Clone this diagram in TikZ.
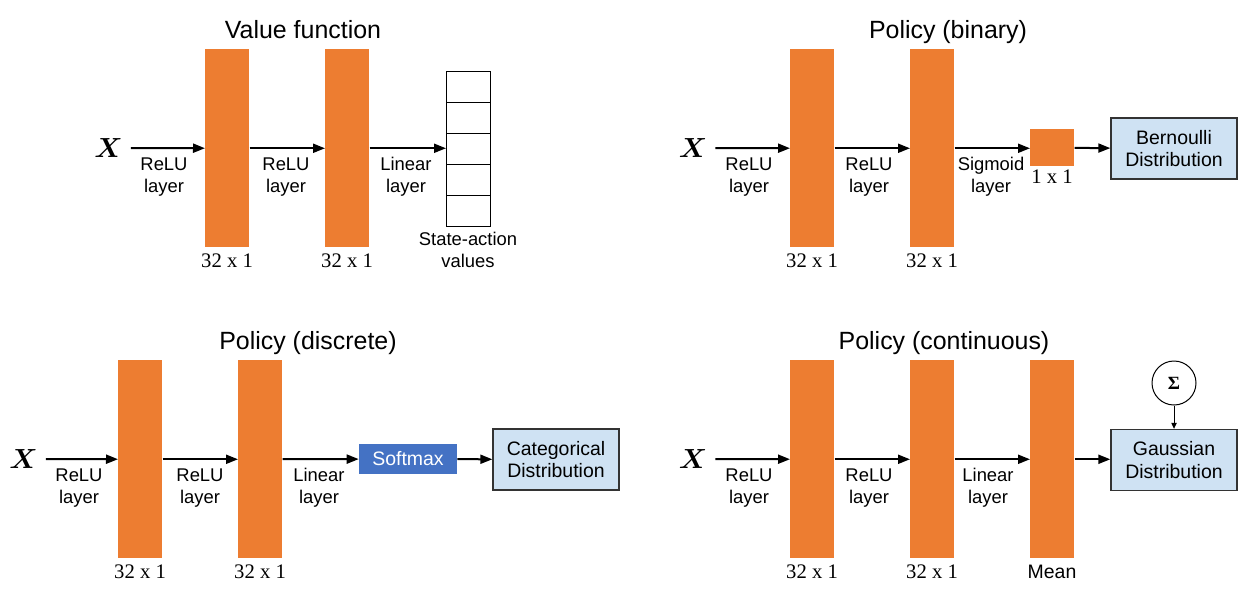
\documentclass[tikz,border=0pt]{standalone}
\usepackage{fontspec}
\usepackage{amsmath}
\usepackage{bm}
\newfontfamily\lblfont{Liberation Sans}
\newfontfamily\dimfont{Liberation Serif}
\usetikzlibrary{arrows.meta}
\definecolor{barorange}{HTML}{ED7D31}
\definecolor{distblue}{HTML}{CFE2F3}
\definecolor{softblue}{HTML}{4472C4}
\definecolor{frame}{HTML}{333333}
\begin{document}
\begin{tikzpicture}[x=0.75pt,y=-0.75pt,
  bar/.style={fill=barorange, inner sep=0pt, minimum width=33pt, minimum height=148.5pt, anchor=north west},
  sqbar/.style={fill=barorange, inner sep=0pt, minimum width=33pt, minimum height=27.75pt, anchor=north west},
  cell/.style={draw, line width=0.75pt, inner sep=0pt, minimum width=33pt, minimum height=23.25pt, anchor=north west},
  lbl/.style={font=\lblfont\fontsize{13.8}{16.2}\selectfont, align=center, inner sep=0pt},
  ttl/.style={font=\lblfont\fontsize{18.7}{22}\selectfont, anchor=base, inner sep=0pt},
  dimlbl/.style={font=\dimfont\fontsize{15.5}{17}\selectfont, anchor=base, inner sep=0pt},
  xin/.style={font=\fontsize{20}{22}\selectfont, inner xsep=6pt, inner ysep=0pt},
  dist/.style={draw=frame, line width=1pt, fill=distblue, minimum width=94.5pt, minimum height=45.75pt, align=center, inner sep=0pt, font=\lblfont\fontsize{14.6}{17}\selectfont},
  soft/.style={fill=softblue, text=white, minimum width=73.5pt, minimum height=22.5pt, inner sep=0pt, font=\lblfont\fontsize{14.6}{17}\selectfont},
  conn/.style={line width=1.5pt, -{Triangle[length=9pt,width=6.75pt]}},
  thinconn/.style={line width=0.75pt, -{Triangle[length=4.5pt,width=4pt]}}
]
\useasboundingbox (0,0) rectangle (1245,594);
\fill[white] (0,0) rectangle (1245,594);

% ---------- Value function ----------
\node[ttl] (t1) at (303,38) {Value function};
\node[xin] (x1) at (108.5,148) {$\bm{X}$};
\node[bar] (a1) at (205,49) {};
\node[bar] (a2) at (325,49) {};
\foreach \i in {0,...,4} {\node[cell] (c\i) at (446,{71+31*\i}) {};}
\draw[conn] (x1.east) -- (a1);
\draw[conn] (a1) -- (a2);
\draw[conn] (a2) -- (a2 -| c2.west);
\node[lbl] (l11) at (164,177) {ReLU\\layer};
\node[lbl] (l12) at (286,177) {ReLU\\layer};
\node[lbl] (l13) at (406,177) {Linear\\layer};
\node[dimlbl] (d11) at (227,267) {32 x 1};
\node[dimlbl] (d12) at (347,267) {32 x 1};
\node[lbl] (sav) at (468,250) {State-action\\values};

% ---------- Policy (binary) ----------
\node[ttl] (t2) at (948,38) {Policy (binary)};
\node[xin] (x2) at (693,148) {$\bm{X}$};
\node[bar] (b1) at (790,49) {};
\node[bar] (b2) at (910,49) {};
\node[sqbar] (b3) at (1030,129) {};
\node[dist] (bern) at (1174,148.5) {Bernoulli\\Distribution};
\draw[conn] (x2.east) -- (b1);
\draw[conn] (b1) -- (b2);
\draw[conn] (b2) -- (b2 -| b3.west);
\draw[conn] (b3) -- (bern);
\node[lbl] (l21) at (749,177) {ReLU\\layer};
\node[lbl] (l22) at (869,177) {ReLU\\layer};
\node[lbl] (l23) at (991,177) {Sigmoid\\layer};
\node[dimlbl] (d21) at (812,267) {32 x 1};
\node[dimlbl] (d22) at (932,267) {32 x 1};
\node[dimlbl] (d23) at (1052,183) {1 x 1};

% ---------- Policy (discrete) ----------
\node[ttl] (t3) at (308,349) {Policy (discrete)};
\node[xin] (x3) at (23.5,459) {$\bm{X}$};
\node[bar] (e1) at (118,360) {};
\node[bar] (e2) at (238,360) {};
\node[soft] (sm) at (408,459) {Softmax};
\node[dist] (cat) at (556,459.5) {Categorical\\Distribution};
\draw[conn] (x3.east) -- (e1);
\draw[conn] (e1) -- (e2);
\draw[conn] (e2) -- (sm);
\draw[conn] (sm) -- (cat);
\node[lbl] (l31) at (79,488) {ReLU\\layer};
\node[lbl] (l32) at (200,488) {ReLU\\layer};
\node[lbl] (l33) at (319,488) {Linear\\layer};
\node[dimlbl] (d31) at (140,578) {32 x 1};
\node[dimlbl] (d32) at (260,578) {32 x 1};

% ---------- Policy (continuous) ----------
\node[ttl] (t4) at (944,349) {Policy (continuous)};
\node[xin] (x4) at (693,459) {$\bm{X}$};
\node[bar] (f1) at (790,360) {};
\node[bar] (f2) at (910,360) {};
\node[bar] (f3) at (1030,360) {};
\node[dist] (gau) at (1174,460) {Gaussian\\Distribution};
\node[draw, circle, line width=0.75pt, minimum size=33pt, inner sep=0pt, font=\dimfont\bfseries\fontsize{14}{15}\selectfont] (sig) at (1174,383) {Σ};
\draw[conn] (x4.east) -- (f1);
\draw[conn] (f1) -- (f2);
\draw[conn] (f2) -- (f3);
\draw[conn] (f3) -- (f3 -| gau.west);
\draw[thinconn] (sig) -- (gau);
\node[lbl] (l41) at (749,488) {ReLU\\layer};
\node[lbl] (l42) at (869,488) {ReLU\\layer};
\node[lbl] (l43) at (988,488) {Linear\\layer};
\node[dimlbl] (d41) at (812,578) {32 x 1};
\node[dimlbl] (d42) at (932,578) {32 x 1};
\node[ttl, font=\lblfont\fontsize{14.6}{17}\selectfont] (mean) at (1052,578) {Mean};
\end{tikzpicture}
\end{document}
